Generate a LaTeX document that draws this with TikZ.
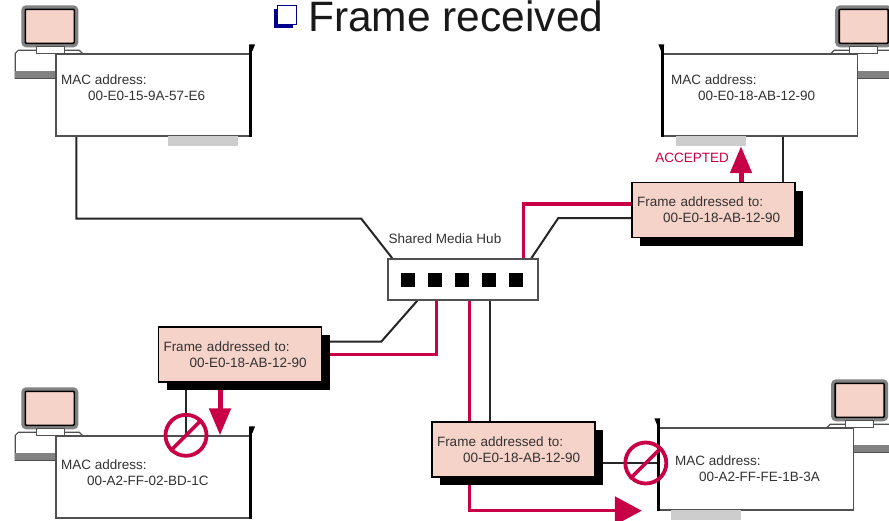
\documentclass[tikz,border=0pt]{standalone}
\usepackage{fontspec}
\setmainfont{Liberation Sans}
\usetikzlibrary{
  arrows.meta,
  positioning,
  calc,
  shadows,
  backgrounds
}
\definecolor{FrameRed}{RGB}{200,0,70}
\definecolor{SoftPink}{RGB}{246,211,201}
\definecolor{CaseGray}{RGB}{80,80,80}
\definecolor{RimGray}{RGB}{130,130,130}
\definecolor{SlotGray}{RGB}{205,205,205}
\definecolor{TextGray}{RGB}{50,50,50}
\definecolor{BulletBlue}{RGB}{0,0,140}
\newcommand{\smalltext}{\fontsize{13.5}{16}\selectfont}
\tikzset{
  hostbox/.style={draw=CaseGray,line width=1.4pt,fill=white,minimum width=194pt,minimum height=82pt,inner sep=0pt},
  hostlabel/.style={anchor=west,align=left,inner sep=0pt,text=TextGray,font=\smalltext},
  slotbar/.style={fill=SlotGray,minimum width=70pt,minimum height=10pt,inner sep=0pt},
  framebox/.style={draw=black,line width=1.4pt,fill=SoftPink,minimum width=163pt,minimum height=55pt,text width=153pt,inner xsep=5pt,inner ysep=0pt,align=left,text=TextGray,font=\smalltext,drop shadow={shadow xshift=8pt,shadow yshift=-8pt,fill=black,opacity=1}},
  hubbox/.style={draw=CaseGray,line width=1.4pt,fill=white,minimum width=150pt,minimum height=41pt,inner sep=0pt},
  portbox/.style={fill=black,minimum size=14pt,inner sep=0pt},
  blockmark/.style={circle,draw=FrameRed,line width=3.8pt,minimum size=41pt,inner sep=0pt},
  wire/.style={line width=2pt,draw=black!85},
  redwire/.style={line width=3.5pt,draw=FrameRed},
  redarrow/.style={-{Triangle[length=27pt,width=21pt]},line width=5pt,draw=FrameRed},
  hostbar/.style={line width=3.2pt,draw=black},
  computer/.pic={
    \draw[fill=white,draw=CaseGray,line width=1.2pt] (-40,0) -- (-37,-3) -- (24,-3) -- (27,0) -- (0,25) -- (-40,25) -- cycle;
    \fill[RimGray] (-40,18) rectangle (0,25);
    \draw[fill=SoftPink,draw=RimGray,line width=4pt,rounded corners=3pt] (-32,-46) rectangle (21,-8);
    \draw[draw=black,line width=1.6pt,rounded corners=1pt] (-30,-44) rectangle (19,-10);
    \draw[fill=white,draw=CaseGray,line width=1pt] (-19,-7) rectangle (9,0);
  }
}
\begin{document}
\begin{tikzpicture}[x=1pt,y=-1pt]
\useasboundingbox (0,0) rectangle (889,520);
\node[hostbox] (h1) at (153,95) {};
\node[hostbox] (h2) at (760.5,95) {};
\node[hostbox] (h3) at (153,477) {};
\node[hostbox] (h4) at (756.5,469) {};
\node[slotbar] (s1) at (203,141) {};
\node[slotbar] (s2) at (711,141) {};
\node[slotbar] (s4) at (706,515) {};
\node[hubbox] (hub) at (463,279.5) {};
\foreach \i in {1,...,5}{
  \node[portbox] (port\i) at ($(hub.west)+(21+27*\i-27,0)$) {};
}
\node[framebox] (f1) at (713.5,210) {\raisebox{-3pt}{Frame addressed to:}\\\raisebox{-3pt}{\hspace*{26pt}00-E0-18-AB-12-90}};
\node[framebox] (f2) at (240,354.5) {Frame addressed to:\\\hspace*{26pt}00-E0-18-AB-12-90};
\node[framebox] (f3) at (513.5,449.5) {Frame addressed to:\\\hspace*{26pt}00-E0-18-AB-12-90};
\begin{scope}[on background layer]
\pic at (h1.north west) {computer};
\pic at (h3.north west) {computer};
\pic[xscale=-1] at (h2.north east) {computer};
\pic[xscale=-1] at (h4.north east) {computer};
\draw[wire] ([xshift=21pt]h1.south west) -- ++(0,82) -- ++(285,0) -- ([xshift=5pt]hub.north west);
\draw[wire] ([xshift=144pt]hub.north west) -- ++(27,-40.3) -- ([yshift=-8pt]f1.west);
\draw[redwire] ([xshift=136pt]hub.north west) |- ([yshift=6pt]f1.west);
\draw[wire] ([xshift=69pt]f1.north) -- ([xshift=69pt]f1.north |- h2.south);
\draw[wire] ([xshift=30pt]hub.south west) -- ++(-36,40.9) -- ([yshift=13pt]f2.east);
\draw[redwire] ([xshift=49pt]hub.south west) |- (f2.east);
\draw[wire] ([xshift=-54pt]f2.south) -- ([xshift=-54pt]f2.south |- h3.north);
\draw[wire] ([xshift=103pt]hub.south west) -- ([xshift=103pt]hub.south west |- f3.north);
\draw[wire] ([yshift=-13.5pt]f3.east) -- ([yshift=-13.5pt]f3.east -| h4.west);
\draw[redarrow] ([xshift=-20pt]f2.south) -- ([xshift=-20pt]f2.south |- h3.north);
\draw[redarrow] ([xshift=27.5pt]f1.north) -- ([xshift=27.5pt]f1.north |- s2.south);
\draw[redwire] ([xshift=82pt]hub.south west) |- ([xshift=-30pt]h4.south west);
\draw[-{Triangle[length=27pt,width=28pt]},line width=3.5pt,draw=FrameRed] ([xshift=-32pt]h4.south west) -- ([xshift=-17pt]h4.south west);
\end{scope}
\foreach \hb/\sgn/\side in {h1/1/east,h3/1/east,h2/-1/west,h4/-1/west}{
  \draw[hostbar] ([yshift=8pt]\hb.north \side) -- (\hb.south \side);
  \fill ([xshift=-1.6pt*\sgn,yshift=9pt]\hb.north \side) -- ++(6*\sgn,0) -- ([xshift=1.6pt*\sgn,yshift=2pt]\hb.north \side) -- cycle;
}
\node[hostlabel] (t1) at (61,88) {MAC address:\\\hspace*{27pt}00-E0-15-9A-57-E6};
\node[hostlabel] (t2) at (671,88) {MAC address:\\\hspace*{27pt}00-E0-18-AB-12-90};
\node[hostlabel] (t3) at (61,473) {MAC address:\\\hspace*{26pt}00-A2-FF-02-BD-1C};
\node[hostlabel] (t4) at (675,469) {MAC address:\\\hspace*{24pt}00-A2-FF-FE-1B-3A};
\node[text=FrameRed,font=\smalltext,inner sep=0pt] (acc) at (692,158) {ACCEPTED};
\node[text=TextGray,font=\smalltext,inner sep=0pt] (hublabel) at (445,239) {Shared Media Hub};
\node[blockmark] (b1) at ([xshift=-54pt]f2.south |- h3.north) {};
\node[blockmark] (b2) at ([xshift=-13pt,yshift=-13.5pt]f3.east -| h4.west) {};
\draw[line width=3.5pt,draw=FrameRed] (b1.south west) -- (b1.north east);
\draw[line width=3.5pt,draw=FrameRed] (b2.south west) -- (b2.north east);
\node[draw=BulletBlue,line width=1pt,fill=white,minimum size=19pt,inner sep=0pt,general shadow={shadow xshift=-3pt,shadow yshift=-3pt,fill=BulletBlue}] (bullet) at (286.5,15) {};
\node[anchor=base west,inner sep=0pt,font=\fontsize{42.5}{50}\selectfont,text=black!90] (title) at (308,31) {Frame received};
\end{tikzpicture}
\end{document}
